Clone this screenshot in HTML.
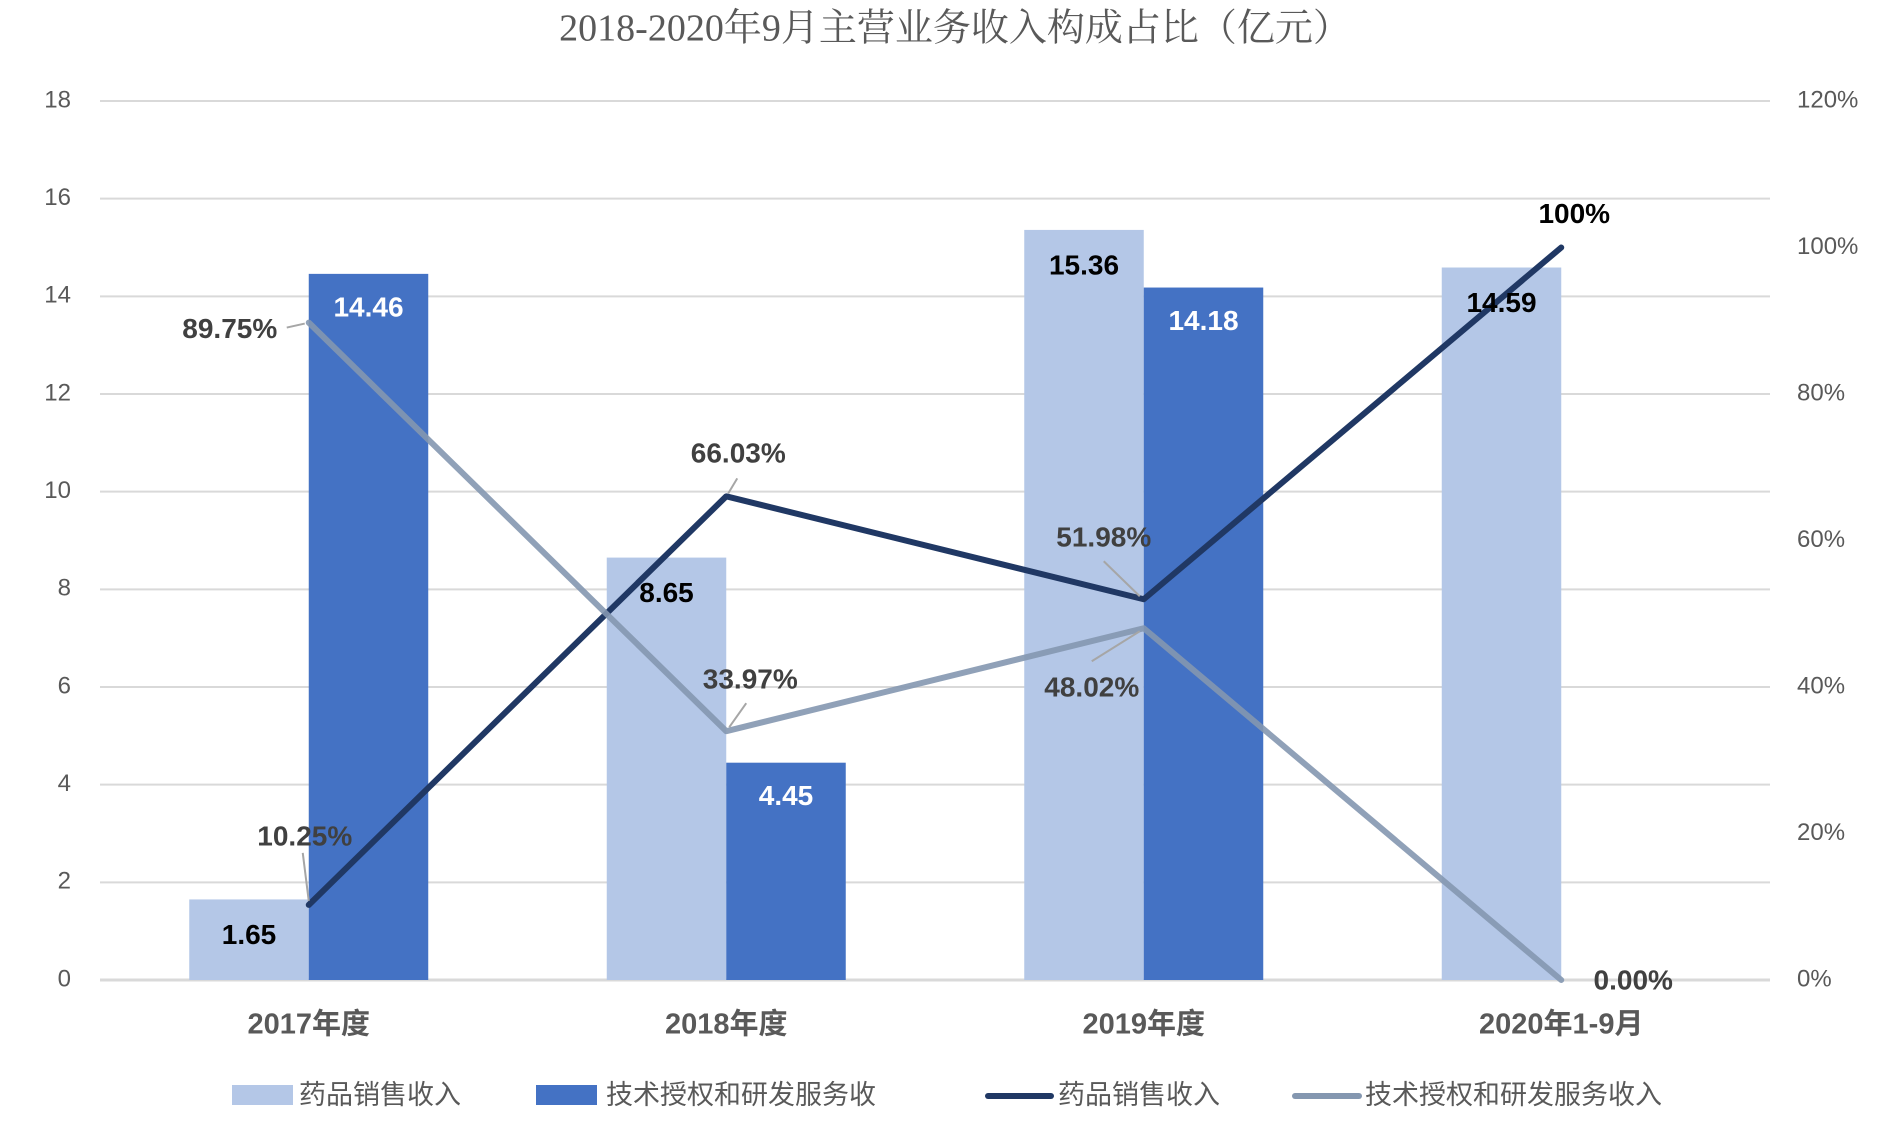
<!DOCTYPE html>
<html><head><meta charset="utf-8"><style>
body{margin:0;background:#fff}
svg text{font-family:"Liberation Sans","Noto Sans CJK SC",sans-serif}
</style></head><body>
<svg id="chart" width="1890" height="1116" viewBox="0 0 1890 1116" xmlns="http://www.w3.org/2000/svg">
<text x="955" y="32" text-anchor="middle" dominant-baseline="middle" font-size="38" fill="#595959" style="font-family:'Liberation Serif','Noto Serif CJK SC',serif">2018-2020年9月主营业务收入构成占比（亿元）</text>
<g id="grid"></g><g id="bars"></g><g id="lines"></g><g id="labels"></g><g id="axes"></g>
<g font-size="27" fill="#595959">
<rect x="232" y="1085" width="61" height="20" fill="#b4c7e7"/>
<text x="299" y="1097" dominant-baseline="middle">药品销售收入</text>
<rect x="536" y="1085" width="61" height="20" fill="#4472c4"/>
<text x="606" y="1097" dominant-baseline="middle">技术授权和研发服务收</text>
<line x1="988" y1="1096" x2="1051" y2="1096" stroke="#203864" stroke-width="6" stroke-linecap="round"/>
<text x="1058" y="1097" dominant-baseline="middle">药品销售收入</text>
<line x1="1295" y1="1096" x2="1359" y2="1096" stroke="#8497b0" stroke-width="6" stroke-linecap="round"/>
<text x="1365" y="1097" dominant-baseline="middle">技术授权和研发服务收入</text>
</g>
</svg>
<script>
const categories=["2017年度","2018年度","2019年度","2020年1-9月"];
const drugSales=[1.65,8.65,15.36,14.59];
const techIncome=[14.46,4.45,14.18,0];
const drugShare=[10.25,66.03,51.98,100];
const techShare=[89.75,33.97,48.02,0];
const leftTicks=[0,2,4,6,8,10,12,14,16,18];
const rightTicks=[0,20,40,60,80,100,120];
const drugShareLabels=["10.25%","66.03%","51.98%","100%"];
const techShareLabels=["89.75%","33.97%","48.02%","0.00%"];

const NS="http://www.w3.org/2000/svg";
const L=100,R=1770,T=101,B=980;
const band=(R-L)/categories.length;
const bw=119.5;
const xc=i=>L+band*(i+0.5);
const yL=v=>B-(v/18)*(B-T);
const yR=v=>B-(v/120)*(B-T);
function mk(tag,attrs,parent,txt){const e=document.createElementNS(NS,tag);for(const k in attrs)e.setAttribute(k,attrs[k]);if(txt!==undefined)e.textContent=txt;document.getElementById(parent).appendChild(e);return e;}

leftTicks.forEach(t=>{
  const g=mk('line',{x1:L,x2:R,y1:yL(t),y2:yL(t),stroke:'#d9d9d9','stroke-width':t===0?3:2},'grid');
  
  
  const tx=mk('text',{x:71,y:yL(t),'text-anchor':'end','dominant-baseline':'middle','font-size':24,fill:'#595959'},'axes',String(t));
  
  
});
rightTicks.forEach(t=>{
  const tx=mk('text',{x:1797,y:yR(t),'dominant-baseline':'middle','font-size':24,fill:'#595959'},'axes',t+'%');
  
  
});
categories.forEach((c,i)=>{
  const tx=mk('text',{x:xc(i),y:1026,'text-anchor':'middle','dominant-baseline':'middle','font-size':29,'font-weight':'bold',fill:'#595959'},'axes',c);
  
  
  const h1=B-yL(drugSales[i]);
  const b1=mk('rect',{x:xc(i)-bw,y:yL(drugSales[i]),width:bw,height:h1,fill:'#b4c7e7'},'bars');
  
  
  const h2=B-yL(techIncome[i]);
  const b2=mk('rect',{x:xc(i),y:yL(techIncome[i]),width:bw,height:h2,fill:'#4472c4'},'bars');
  
  
  const l1=mk('text',{x:xc(i)-bw/2,y:yL(drugSales[i])+37,'text-anchor':'middle','dominant-baseline':'middle','font-size':28,'font-weight':'bold',fill:'#000'},'labels',drugSales[i].toFixed(2));
  
  
  if(techIncome[i]>0){
    const l2=mk('text',{x:xc(i)+bw/2,y:yL(techIncome[i])+35,'text-anchor':'middle','dominant-baseline':'middle','font-size':28,'font-weight':'bold',fill:'#fff'},'labels',techIncome[i].toFixed(2));
    
    
  }
});
const p1=mk('polyline',{points:drugShare.map((v,i)=>xc(i)+','+yR(v)).join(' '),fill:'none',stroke:'#203864','stroke-width':6,'stroke-linejoin':'round','stroke-linecap':'round'},'lines');


const p2=mk('polyline',{points:techShare.map((v,i)=>xc(i)+','+yR(v)).join(' '),fill:'none',stroke:'#8497b0','stroke-opacity':0.9,'stroke-width':6,'stroke-linejoin':'round','stroke-linecap':'round'},'lines');


// label offsets (layout only)
const dOff=[[-4,-67],[12,-41],[-40,-60],[13,-32]];
const tOff=[[-79,8],[24,-50],[-52,61],[72,2]];
function lineLabel(vals,labels,offs,name,lead){
  vals.forEach((v,i)=>{
    const px=xc(i),py=yR(v),lx=px+offs[i][0],ly=py+offs[i][1];
    if(lead[i]){
      const ld=mk('line',{x1:px+lead[i][0],y1:py+lead[i][1],x2:px+lead[i][2],y2:py+lead[i][3],stroke:'#a6a6a6','stroke-width':2},'labels');
      
      
    }
    const t=mk('text',{x:lx,y:ly,'text-anchor':'middle','dominant-baseline':'middle','font-size':28,'font-weight':'bold',fill:i===3&&name==='drug-share-label'?'#000':'#404040'},'labels',labels[i]);
    
    
  });
}
lineLabel(drugShare,drugShareLabels,dOff,'drug-share-label',[[-6,-52,0,-4],[11,-18,2,-3],[-40,-38,-4,-3],null]);
lineLabel(techShare,techShareLabels,tOff,'tech-share-label',[[-22,5,-4,1],[20,-28,3,-4],[-52,33,-4,3],null]);
</script>
</body></html>
